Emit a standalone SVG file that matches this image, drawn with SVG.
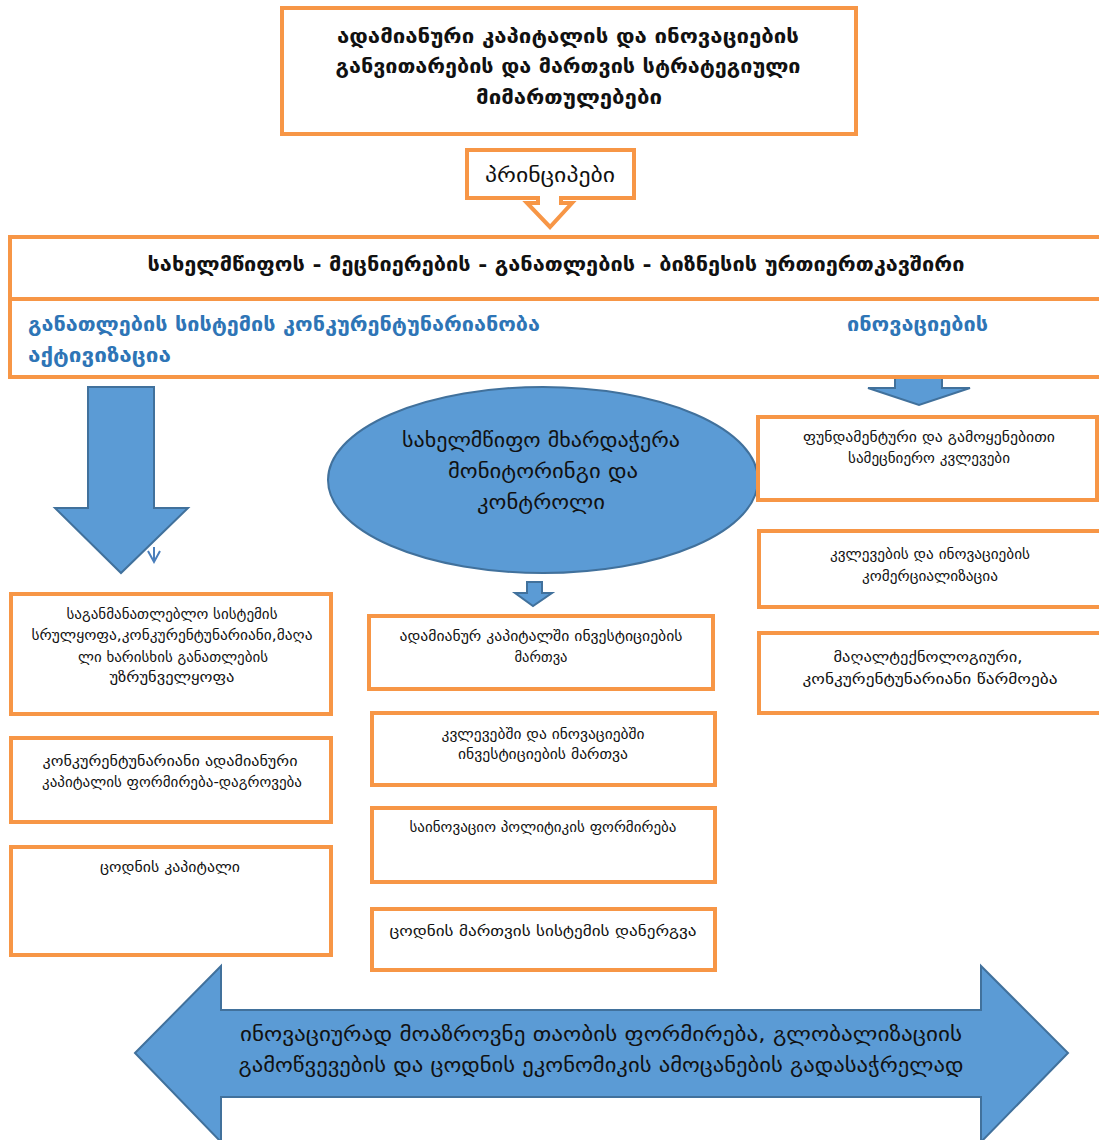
<svg xmlns="http://www.w3.org/2000/svg" width="1099" height="1140" viewBox="0 0 1099 1140">
<style>
.box{fill:#fff;stroke:#F79646;stroke-width:4}
.blk{fill:#5B9BD5;stroke:#41719C;stroke-width:2}
text{font-family:"DejaVu Sans","Noto Sans",sans-serif;fill:#111;text-anchor:middle}
.t20{font-size:20px}
.b{font-weight:bold}
.s14{font-size:14px}
.s15{font-size:15px}
.blue{fill:#2E75B6;font-size:19px;font-weight:bold;text-anchor:start}
</style>
<rect width="1099" height="1140" fill="#fff"/>

<g id="connectors">
  <polygon class="blk" points="88,387 154,387 154,508 188,508 121,573 55,508 88,508"/>
  <path d="M154,547 V562 M148,551 L154,562 L160,551" fill="none" stroke="#4A7EBB" stroke-width="2"/>
  <polygon class="blk" points="895,376 942,376 942,388 970,388 919,405 868,388 895,388"/>
  <polygon class="blk" points="527,582 542,582 542,593 552,593 533,606 515,593 527,593"/>
</g>

<g id="title">
  <rect class="box" x="282" y="8" width="574" height="126"/>
  <text class="t20 b" x="568" y="43" textLength="462" lengthAdjust="spacingAndGlyphs">ადამიანური კაპიტალის და  ინოვაციების</text>
  <text class="t20 b" x="568" y="73" textLength="465" lengthAdjust="spacingAndGlyphs">განვითარების და მართვის სტრატეგიული</text>
  <text class="t20 b" x="569" y="104" textLength="186" lengthAdjust="spacingAndGlyphs">მიმართულებები</text>
</g>

<g id="principles">
  <path class="box" d="M467,150 H634 V198 H561 V203 H572 L550,227 L527,203 H538 V198 H467 Z"/>
  <text class="t20" x="550" y="182" textLength="130" lengthAdjust="spacingAndGlyphs">პრინციპები</text>
</g>

<g id="banner">
  <rect class="box" x="10" y="237" width="1100" height="62"/>
  <rect class="box" x="10" y="299" width="1100" height="78"/>
  <text class="b" font-size="19" x="556" y="271" textLength="817" lengthAdjust="spacingAndGlyphs">სახელმწიფოს -  მეცნიერების - განათლების - ბიზნესის ურთიერთკავშირი</text>
  <text class="blue" x="28" y="331" textLength="512" lengthAdjust="spacingAndGlyphs">განათლების სისტემის კონკურენტუნარიანობა</text>
  <text class="blue" x="28" y="362" textLength="143" lengthAdjust="spacingAndGlyphs">აქტივიზაცია</text>
  <text class="blue" x="847" y="331" textLength="141" lengthAdjust="spacingAndGlyphs">ინოვაციების</text>
</g>

<g id="state-support">
  <ellipse class="blk" cx="543" cy="480" rx="215" ry="93"/>
  <text class="t20" x="541" y="447" textLength="278" lengthAdjust="spacingAndGlyphs">სახელმწიფო მხარდაჭერა</text>
  <text class="t20" x="543" y="478" textLength="190" lengthAdjust="spacingAndGlyphs">მონიტორინგი და</text>
  <text class="t20" x="541" y="509" textLength="128" lengthAdjust="spacingAndGlyphs">კონტროლი</text>
</g>

<g id="fundamental-research">
  <rect class="box" x="758" y="417" width="339" height="83"/>
  <text class="s14" x="929" y="442" textLength="252" lengthAdjust="spacingAndGlyphs">ფუნდამენტური და გამოყენებითი</text>
  <text class="s14" x="929" y="463" textLength="162" lengthAdjust="spacingAndGlyphs">სამეცნიერო კვლევები</text>
</g>
<g id="commercialization">
  <rect class="box" x="759" y="531" width="345" height="76"/>
  <text class="s14" x="930" y="559" textLength="200" lengthAdjust="spacingAndGlyphs">კვლევების და ინოვაციების</text>
  <text class="s14" x="930" y="581" textLength="136" lengthAdjust="spacingAndGlyphs">კომერციალიზაცია</text>
</g>
<g id="hightech">
  <rect class="box" x="759" y="633" width="345" height="80"/>
  <text class="s15" x="928" y="662" textLength="189" lengthAdjust="spacingAndGlyphs">მაღალტექნოლოგიური,</text>
  <text class="s15" x="930" y="684" textLength="255" lengthAdjust="spacingAndGlyphs">კონკურენტუნარიანი წარმოება</text>
</g>

<g id="education-system">
  <rect class="box" x="11" y="594" width="320" height="120"/>
  <text class="s14" x="172" y="619" textLength="211" lengthAdjust="spacingAndGlyphs">საგანმანათლებლო სისტემის</text>
  <text class="s14" x="172" y="640" textLength="281" lengthAdjust="spacingAndGlyphs">სრულყოფა,კონკურენტუნარიანი,მაღა</text>
  <text class="s14" x="173" y="662" textLength="190" lengthAdjust="spacingAndGlyphs">ლი ხარისხის განათლების</text>
  <text class="s14" x="172" y="682" textLength="125" lengthAdjust="spacingAndGlyphs">უზრუნველყოფა</text>
</g>
<g id="human-capital">
  <rect class="box" x="11" y="738" width="320" height="84"/>
  <text class="s14" x="170" y="766" textLength="255" lengthAdjust="spacingAndGlyphs">კონკურენტუნარიანი ადამიანური</text>
  <text class="s14" x="172" y="787" textLength="260" lengthAdjust="spacingAndGlyphs">კაპიტალის ფორმირება-დაგროვება</text>
</g>
<g id="knowledge-capital">
  <rect class="box" x="11" y="847" width="320" height="108"/>
  <text class="s14" x="170" y="872" textLength="140" lengthAdjust="spacingAndGlyphs">ცოდნის კაპიტალი</text>
</g>

<g id="hc-investment">
  <rect class="box" x="369" y="616" width="344" height="73"/>
  <text class="s14" x="541" y="641" textLength="283" lengthAdjust="spacingAndGlyphs">ადამიანურ კაპიტალში ინვესტიციების</text>
  <text class="s14" x="541" y="662" textLength="53" lengthAdjust="spacingAndGlyphs">მართვა</text>
</g>
<g id="ri-investment">
  <rect class="box" x="372" y="713" width="343" height="72"/>
  <text class="s14" x="543" y="739" textLength="203" lengthAdjust="spacingAndGlyphs">კვლევებში და ინოვაციებში</text>
  <text class="s14" x="543" y="759" textLength="170" lengthAdjust="spacingAndGlyphs">ინვესტიციების მართვა</text>
</g>
<g id="innovation-policy">
  <rect class="box" x="372" y="808" width="343" height="74"/>
  <text class="s14" x="543" y="832" textLength="267" lengthAdjust="spacingAndGlyphs">საინოვაციო პოლიტიკის ფორმირება</text>
</g>
<g id="knowledge-management">
  <rect class="box" x="372" y="909" width="343" height="61"/>
  <text class="s15" x="543" y="936" textLength="307" lengthAdjust="spacingAndGlyphs">ცოდნის მართვის სისტემის დანერგვა</text>
</g>

<g id="goal">
  <polygon class="blk" points="135,1053 221,966 221,1010 981,1010 981,966 1068,1053 981,1142 981,1097 221,1097 221,1142"/>
  <text class="t20" x="601" y="1041" textLength="722" lengthAdjust="spacingAndGlyphs">ინოვაციურად მოაზროვნე თაობის ფორმირება, გლობალიზაციის</text>
  <text class="t20" x="601" y="1072" textLength="725" lengthAdjust="spacingAndGlyphs">გამოწვევების და ცოდნის ეკონომიკის ამოცანების გადასაჭრელად</text>
</g>
</svg>
